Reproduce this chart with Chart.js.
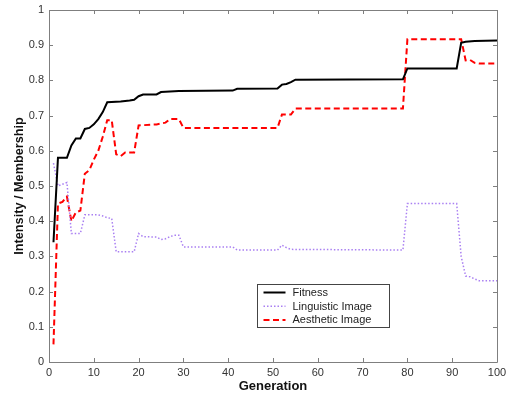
<!DOCTYPE html>
<html>
<head>
<meta charset="utf-8">
<script src="https://cdn.jsdelivr.net/npm/chart.js@4/dist/chart.umd.min.js"></script>
<style>
  html, body { margin: 0; padding: 0; background: #fff; }
  #wrap { position: relative; width: 506px; height: 397px; }
</style>
</head>
<body>
<div id="wrap"><canvas id="c" width="506" height="397"></canvas></div>
<script>
// ---- Data ----
const seriesLabels = ['Fitness', 'Linguistic Image', 'Aesthetic Image'];

const fitnessGen = [1, 2, 4, 5, 6, 7, 8, 9, 10, 11, 12, 13, 16, 18, 19, 20, 21, 24, 25, 26, 29, 41, 42, 51, 52, 53, 54, 55, 79, 80, 91, 92, 93, 95, 100];
const fitnessVal = [0.34, 0.58, 0.58, 0.615, 0.635, 0.635, 0.662, 0.665, 0.675, 0.69, 0.71, 0.738, 0.74, 0.743, 0.745, 0.755, 0.76, 0.76, 0.767, 0.768, 0.77, 0.771, 0.776, 0.777, 0.788, 0.79, 0.795, 0.802, 0.803, 0.834, 0.834, 0.907, 0.91, 0.912, 0.913];

const linguisticGen = [1, 2, 3, 4, 5, 7, 8, 11, 12, 13, 14, 15, 19, 20, 21, 24, 25, 26, 27, 28, 29, 30, 41, 42, 51, 52, 53, 54, 79, 80, 91, 92, 93, 94, 95, 96, 100];
const linguisticVal = [0.565, 0.50, 0.505, 0.51, 0.365, 0.365, 0.418, 0.418, 0.415, 0.41, 0.408, 0.313, 0.313, 0.365, 0.356, 0.355, 0.348, 0.35, 0.356, 0.36, 0.36, 0.327, 0.327, 0.318, 0.318, 0.332, 0.325, 0.32, 0.318, 0.45, 0.45, 0.30, 0.244, 0.242, 0.236, 0.231, 0.231];

const aestheticGen = [1, 2, 3, 4, 5, 6, 7, 8, 9, 10, 11, 12, 13, 14, 15, 16, 17, 19, 20, 24, 26, 27, 29, 30, 51, 52, 54, 55, 79, 80, 92, 93, 94, 95, 96, 100];
const aestheticVal = [0.05, 0.45, 0.455, 0.47, 0.40, 0.425, 0.43, 0.535, 0.545, 0.575, 0.60, 0.64, 0.687, 0.687, 0.59, 0.585, 0.595, 0.595, 0.672, 0.675, 0.68, 0.69, 0.69, 0.665, 0.665, 0.703, 0.703, 0.72, 0.72, 0.917, 0.917, 0.857, 0.858, 0.85, 0.848, 0.848];

const xTicks = [0, 10, 20, 30, 40, 50, 60, 70, 80, 90, 100];
const yTicks = [0, 0.1, 0.2, 0.3, 0.4, 0.5, 0.6, 0.7, 0.8, 0.9, 1];

function pts(gs, vs) { return gs.map((g, i) => ({ x: g, y: vs[i] })); }

const FONT = "'Liberation Sans', Arial, sans-serif";
const AXIS_GRAY = '#7f7f7f';

// Frame with inward tick marks (MATLAB style)
const framePlugin = {
  id: 'frame',
  afterDatasetsDraw(chart) {
    const { ctx, chartArea: a, scales } = chart;
    ctx.save();
    ctx.strokeStyle = AXIS_GRAY;
    ctx.lineWidth = 1;
    ctx.beginPath();
    ctx.rect(Math.round(a.left) + 0.5, Math.round(a.top) + 0.5, Math.round(a.right - a.left), Math.round(a.bottom - a.top));
    ctx.stroke();
    const L = 4;
    ctx.beginPath();
    xTicks.forEach(v => {
      const px = Math.round(scales.x.getPixelForValue(v)) + 0.5;
      ctx.moveTo(px, a.bottom); ctx.lineTo(px, a.bottom - L);
      ctx.moveTo(px, a.top); ctx.lineTo(px, a.top + L);
    });
    yTicks.forEach(v => {
      const py = Math.round(scales.y.getPixelForValue(v)) + 0.5;
      ctx.moveTo(a.left, py); ctx.lineTo(a.left + L, py);
      ctx.moveTo(a.right, py); ctx.lineTo(a.right - L, py);
    });
    ctx.stroke();
    ctx.restore();
  }
};

// Legend box inside plot area
const legendPlugin = {
  id: 'boxLegend',
  afterDraw(chart) {
    const { ctx, scales } = chart;
    const left = Math.round(scales.x.getPixelForValue(46.4)) + 0.5;
    const top = Math.round(scales.y.getPixelForValue(0.222)) + 0.5;
    const w = 132, h = 43;
    ctx.save();
    ctx.fillStyle = '#fff';
    ctx.fillRect(left, top, w, h);
    ctx.strokeStyle = '#444';
    ctx.lineWidth = 1;
    ctx.strokeRect(left, top, w, h);
    ctx.font = '11px ' + FONT;
    ctx.textBaseline = 'middle';
    ctx.fillStyle = '#222';
    chart.data.datasets.forEach((ds, i) => {
      const y = top + 8 + i * 13.7;
      ctx.save();
      ctx.strokeStyle = ds.borderColor;
      ctx.lineWidth = ds.borderWidth;
      ctx.setLineDash(ds.borderDash || []);
      ctx.beginPath();
      ctx.moveTo(left + 6, y); ctx.lineTo(left + 28, y);
      ctx.stroke();
      ctx.restore();
      ctx.fillText(ds.label, left + 35, y + 0.5);
    });
    ctx.restore();
  }
};

new Chart(document.getElementById('c'), {
  type: 'line',
  data: {
    datasets: [
      { label: seriesLabels[0], data: pts(fitnessGen, fitnessVal), borderColor: '#000000', borderWidth: 2, pointRadius: 0, tension: 0, fill: false },
      { label: seriesLabels[1], data: pts(linguisticGen, linguisticVal), borderColor: '#a97ff2', borderWidth: 1.5, borderDash: [1.5, 2], pointRadius: 0, tension: 0, fill: false },
      { label: seriesLabels[2], data: pts(aestheticGen, aestheticVal), borderColor: '#ff0000', borderWidth: 2, borderDash: [6, 3.5], pointRadius: 0, tension: 0, fill: false }
    ]
  },
  options: {
    responsive: false,
    animation: false,
    layout: { padding: { top: 10, right: 9, left: 0, bottom: 0 } },
    plugins: { legend: { display: false }, tooltip: { enabled: false } },
    scales: {
      x: {
        type: 'linear', min: 0, max: 100,
        afterBuildTicks(s) { s.ticks = xTicks.map(v => ({ value: v })); },
        afterFit(s) { s.height = 35; s.paddingLeft = 0; s.paddingRight = 0; },
        grid: { display: false, drawTicks: false },
        border: { display: false },
        ticks: { padding: 4, color: '#333', font: { family: FONT, size: 11 }, maxRotation: 0, autoSkip: false },
        title: { display: true, text: 'Generation', color: '#111', font: { family: FONT, size: 13, weight: 'bold' }, padding: { top: 0, bottom: 3 } }
      },
      y: {
        type: 'linear', min: 0, max: 1,
        afterBuildTicks(s) { s.ticks = yTicks.map(v => ({ value: v })); },
        afterFit(s) { s.width = 49; s.paddingTop = 0; s.paddingBottom = 0; },
        grid: { display: false, drawTicks: false },
        border: { display: false },
        ticks: { padding: 5, color: '#333', font: { family: FONT, size: 11 }, autoSkip: false, callback: v => String(+v.toFixed(1)) },
        title: { display: true, text: 'Intensity / Membership', color: '#111', font: { family: FONT, size: 12.7, weight: 'bold' }, padding: { top: 12, bottom: 0 } }
      }
    }
  },
  plugins: [framePlugin, legendPlugin]
});
</script>
</body>
</html>
